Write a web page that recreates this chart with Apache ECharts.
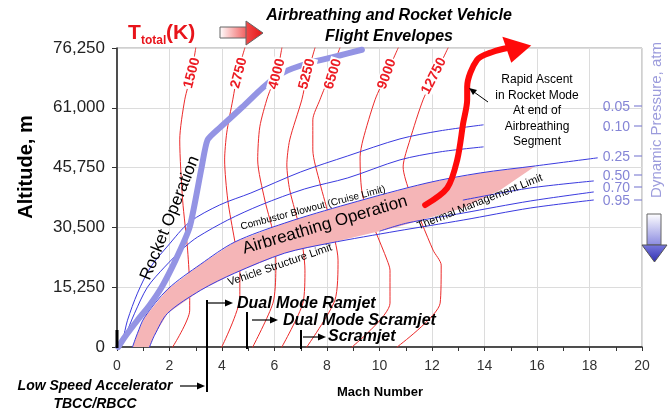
<!DOCTYPE html>
<html><head><meta charset="utf-8">
<script src="https://cdn.jsdelivr.net/npm/echarts@6/dist/echarts.min.js"></script>
<style>html,body{margin:0;padding:0;background:#fff}#c{width:669px;height:414px}</style>
</head><body><div id="c"></div>
<script>
// ---------- DATA (Mach number, altitude in m) ----------
const altitudeTicks = [0, 15250, 30500, 45750, 61000, 76250];
const machRange = [0, 20];

const rocketOperation = [[0.05,0],[0.29,2480],[0.78,6830],[1.24,10660],[1.70,15250],[2.23,22150],[2.77,30590],[3.22,45660],[3.45,52820],[3.91,55890],[4.79,61250],[5.55,66110],[6.31,69940],[7.34,72490],[8.30,74020],[9.33,75810]];

const rapidAscent = [[11.74,36200],[12.58,40550],[12.96,47700],[13.19,57160],[13.34,63030],[13.34,66350],[13.72,73250],[14.33,75300],[14.87,76250]];
const rapidAscentHead = [[15.78,76900],[14.68,79130],[15.02,72500]];

const bandUpper = [[0.59,0],[0.78,3500],[1.05,7590],[1.93,14750],[3.19,21130],[4.48,26750],[6.39,31610],[8.80,36470],[11.81,41830],[13.84,44390],[15.94,46180]];
const bandLower = [[1.24,0],[1.43,2990],[1.93,8610],[3.19,14490],[4.48,18830],[6.39,23940],[8.11,26500],[10.67,30590],[13.19,35440],[14.60,40030],[15.94,46180]];

const qLabels = ['0.05','0.10','0.25','0.50','0.70','0.95'];
const q005 = [[0.06,0],[0.21,1710],[0.40,6830],[0.78,13730],[1.28,20370],[1.93,25740],[2.77,31870],[3.91,36220],[5.10,39280],[7.00,44650],[8.79,48730],[10.78,53070],[12.30,55120],[13.95,56650]];
const q010 = [[0.10,0],[0.29,2480],[0.67,8610],[1.16,15250],[1.81,20370],[2.58,25480],[3.07,28040],[4.22,32380],[5.48,36220],[7.15,40310],[8.79,43120],[10.78,47720],[12.30,49750],[13.95,51030]];
const q025 = [[0.59,0],[0.78,3500],[1.05,7590],[1.93,14750],[3.19,21130],[4.48,26750],[6.39,31610],[8.80,36470],[11.81,41830],[13.84,44390],[15.94,46180],[18.30,48230]];
const q050 = [[13.19,37480],[15.74,40550],[18.15,42340]];
const q070 = [[10.02,29570],[11.05,31610],[13.19,34170],[15.74,37230],[18.15,39530]];
const q095 = [[1.24,0],[1.43,2990],[1.93,8610],[3.19,14490],[4.48,18830],[6.39,23940],[8.11,26500],[10.67,29570],[13.19,32380],[15.74,35440],[18.15,37480]];

const tempLabels = ['1500','2750','4000','5250','6500','9000','12750'];
const t1500 = [[2.12,0],[2.77,9380],[2.77,14490],[2.69,24710],[2.50,37480],[2.39,52820],[2.58,63040],[2.84,69940],[3.00,76250]];
const t2750 = [[3.99,0],[4.68,12700],[4.68,19600],[4.48,27260],[4.22,37480],[4.10,47700],[4.18,54600],[4.41,63040],[4.60,69940],[4.87,76250]];
const t4000 = [[5.17,0],[5.94,11170],[6.05,19600],[6.01,27260],[5.63,37480],[5.36,47700],[5.44,56140],[5.74,63800],[6.09,69940],[6.28,76250]];
const t5250 = [[6.28,0],[7.08,11170],[7.16,19600],[6.97,29820],[6.58,40040],[6.47,46430],[6.58,52820],[7.04,63040],[7.23,68910],[7.54,76250]];
const t6500 = [[7.23,0],[8.30,11930],[8.42,22150],[8.11,32380],[7.73,41830],[7.46,50260],[7.46,57930],[7.73,63040],[8.11,69430],[8.49,76250]];
const t9000 = [[8.95,0],[10.40,11170],[10.40,19600],[10.29,22150],[9.37,38250],[9.26,48470],[9.37,52820],[9.83,63040],[10.29,69940],[10.71,76250]];
const t12750 = [[10.67,0],[12.31,11170],[12.35,20880],[12.04,24710],[11.16,39280],[10.90,45920],[11.16,52820],[11.66,63040],[12.16,69940],[12.61,76250]];

// ---------- RENDER ----------
const FONT = '"Liberation Sans", Arial, Helvetica, sans-serif';
const chart = echarts.init(document.getElementById('c'), null, {renderer:'canvas'});

function lineS(data, color, width, z, smooth) {
  return {type:'line', data, symbol:'none', showSymbol:false, smooth: smooth, clip:false, silent:true, z,
    lineStyle:{color, width, join:'round', cap:'round'}, animation:false};
}
function polyS(pts, fill, z) {
  return {type:'custom', coordinateSystem:'cartesian2d', data:[pts[0]], clip:false, silent:true, z,
    renderItem:(params, api) => ({type:'polygon', shape:{points: pts.map(p => api.coord(p))}, style:{fill}})};
}
function txt(text, x, y, size, o) {
  o = o || {};
  const st = {text, x:0, y:0, fill:o.color||'#000', fontSize:size, fontWeight:o.weight||'normal',
    fontStyle:o.style||'normal', fontFamily:FONT, align:o.align||'center', verticalAlign:'middle'};
  if (o.lh) st.lineHeight = o.lh;
  if (o.bg) { st.backgroundColor = o.bg; st.padding = o.pad || [0,1]; }
  return {type:'text', x, y, rotation:(o.rot||0)*Math.PI/180, z:100, style:st};
}
function seg(x1,y1,x2,y2,w,color) {
  return {type:'line', z:100, shape:{x1,y1,x2,y2}, style:{stroke:color||'#000', lineWidth:w||1}};
}
function arrowR(x1,y,x2) {
  return [seg(x1,y,x2-6,y,1.2), {type:'polygon', z:100, shape:{points:[[x2-8,y-3.5],[x2,y],[x2-8,y+3.5]]}, style:{fill:'#000'}}];
}

const tempSeries = [t1500,t2750,t4000,t5250,t6500,t9000,t12750].map(d => lineS(d,'#ec2a2a',1,2,0.25));
const qSeries = [q005,q010,q025,q050,q070,q095].map(d => lineS(d,'#3a3adf',1,4,0.3));
const bandPoly = bandUpper.concat(bandLower.slice().reverse());

const tempPos = [[192,73,75],[239,73,75],[277,74,75],[307,74,75],[333,74,73],[387,74,70],[434,76,63]];
const qPos = [107,127,157,176,188,201];

const graphic = [];
// title
graphic.push(txt('Airbreathing and Rocket Vehicle', 389, 16, 16, {weight:'bold', style:'italic'}));
graphic.push(txt('Flight Envelopes', 389, 37, 16, {weight:'bold', style:'italic'}));
// T total
graphic.push(txt('T', 128, 33, 21, {weight:'bold', color:'#e8141b', align:'left'}));
graphic.push(txt('total', 141, 41, 12, {weight:'bold', color:'#e8141b', align:'left'}));
graphic.push(txt('(K)', 166, 33, 21, {weight:'bold', color:'#e8141b', align:'left'}));
graphic.push({type:'rect', z:100, shape:{x:220,y:27,width:27,height:11},
  style:{fill:new echarts.graphic.LinearGradient(0,0,1,0,[{offset:0,color:'#ffffff'},{offset:1,color:'#f05a5a'}]), stroke:'#666', lineWidth:1}});
graphic.push({type:'polygon', z:100, shape:{points:[[246,21],[263,33],[246,45]]},
  style:{fill:new echarts.graphic.LinearGradient(0,0,1,0,[{offset:0,color:'#f24b4b'},{offset:1,color:'#e41414'}]), stroke:'#666', lineWidth:1}});
// axis titles
graphic.push(txt('Altitude, m', 26, 167, 20, {weight:'bold', rot:90}));
graphic.push(txt('Mach Number', 380, 392, 13, {weight:'bold'}));
graphic.push(txt('Dynamic Pressure, atm', 657, 120, 15, {color:'#9c9cdc', rot:90}));
graphic.push({type:'rect', z:100, shape:{x:647,y:214,width:14,height:31},
  style:{fill:new echarts.graphic.LinearGradient(0,0,0,1,[{offset:0,color:'#ffffff'},{offset:1,color:'#8a8ae0'}]), stroke:'#666', lineWidth:1}});
graphic.push({type:'polygon', z:100, shape:{points:[[642,245],[667,245],[654.5,262]]},
  style:{fill:new echarts.graphic.LinearGradient(0,0,0,1,[{offset:0,color:'#7a7ade'},{offset:1,color:'#2e2eb0'}]), stroke:'#555', lineWidth:1}});
// dynamic pressure labels
qLabels.forEach((l,i) => {
  graphic.push(txt(l, 630, qPos[i], 14, {color:'#8585d6', align:'right'}));
  graphic.push(seg(634, qPos[i]-1, 642, qPos[i]-1, 1.2, '#8585d6'));
});
graphic.push({type:'circle', z:100, shape:{cx:605, cy:109, r:1}, style:{fill:'#8585d6'}});
graphic.push({type:'circle', z:100, shape:{cx:605, cy:129, r:1}, style:{fill:'#8585d6'}});
// temperature labels
tempLabels.forEach((l,i) => graphic.push(txt(l, tempPos[i][0], tempPos[i][1], 14, {weight:'bold', color:'#ec1c24', rot:tempPos[i][2], bg:'#fff', pad:[0,1]})));
// region annotations
graphic.push(txt('Rocket Operation', 170, 218, 17, {rot:68}));
graphic.push(txt('Airbreathing Operation', 325, 225, 17, {rot:16.5}));
graphic.push(txt('Combustor Blowout (Cruise Limit)', 313, 208, 10, {rot:14.7}));
graphic.push(txt('Vehicle Structure Limit', 280, 265, 11, {rot:19}));
graphic.push(txt('Thermal Management Limit', 480, 202, 11, {rot:21.6}));
graphic.push(txt('Rapid Ascent\nin Rocket Mode\nAt end of\nAirbreathing\nSegment', 537, 111, 12, {lh:15.5}));
graphic.push(seg(488,102,474,92,1,'#000'));
graphic.push({type:'polygon', z:100, shape:{points:[[469,88],[477,90],[473,95]]}, style:{fill:'#000'}});
// engine mode brackets
graphic.push(seg(117,330,117,348,3));
graphic.push(seg(207,300,207,392,2));
graphic.push(seg(247,312,247,349,2));
graphic.push(seg(301,330,301,349,2));
graphic.push(...arrowR(180,386,205));
graphic.push(...arrowR(207,303,233));
graphic.push(...arrowR(252,320,278));
graphic.push(...arrowR(303,337,326));
graphic.push(txt('Low Speed Accelerator', 95, 386, 14, {weight:'bold', style:'italic'}));
graphic.push(txt('TBCC/RBCC', 95, 404, 14, {weight:'bold', style:'italic'}));
graphic.push(txt('Dual Mode Ramjet', 237, 304, 16, {weight:'bold', style:'italic', align:'left'}));
graphic.push(txt('Dual Mode Scramjet', 283, 321, 16, {weight:'bold', style:'italic', align:'left'}));
graphic.push(txt('Scramjet', 328, 337, 16, {weight:'bold', style:'italic', align:'left'}));

chart.setOption({
  animation:false,
  backgroundColor:'#fff',
  grid:{left:117, right:27, top:48, bottom:67, show:true, borderColor:'#a0a0a0', borderWidth:1},
  xAxis:{type:'value', min:machRange[0], max:machRange[1], interval:2,
    axisLine:{show:true, onZero:false, lineStyle:{color:'#222', width:1.5}},
    axisTick:{show:true, length:4, lineStyle:{color:'#333'}},
    minorTick:{show:true, splitNumber:2, length:4, lineStyle:{color:'#333'}},
    splitLine:{show:true, lineStyle:{color:'#dcdcdc', width:1}},
    axisLabel:{fontSize:14, color:'#333', margin:12, fontFamily:FONT}},
  yAxis:{type:'value', min:altitudeTicks[0], max:altitudeTicks[altitudeTicks.length-1], interval:altitudeTicks[1]-altitudeTicks[0],
    axisLine:{show:true, onZero:false, lineStyle:{color:'#222', width:1.5}},
    axisTick:{show:true, length:5, lineStyle:{color:'#333'}},
    splitLine:{show:true, lineStyle:{color:'#dcdcdc', width:1}},
    axisLabel:{fontSize:17, color:'#222', margin:12, fontFamily:FONT, formatter:v => v.toLocaleString('en-US')}},
  series:[
    ...tempSeries,
    polyS(bandPoly, '#f5b5b7', 3),
    ...qSeries,
    lineS(rocketOperation, '#9494e4', 6, 6, 0.2),
    lineS(rapidAscent, '#ff0a0a', 6, 7, 0.3),
    polyS(rapidAscentHead, '#ff0a0a', 7)
  ],
  graphic
});
</script></body></html>
